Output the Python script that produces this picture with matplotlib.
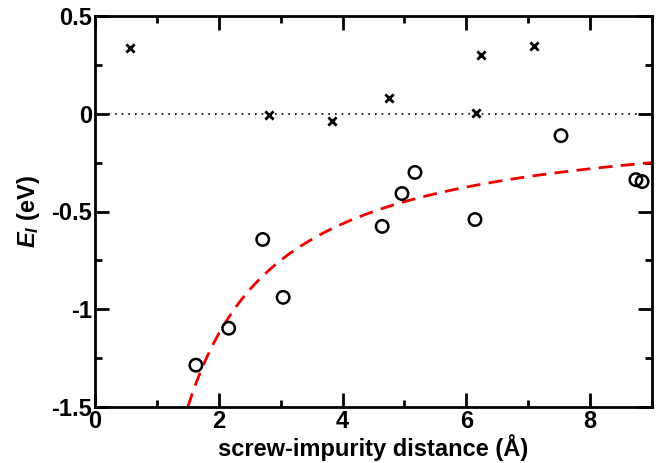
import numpy as np
import matplotlib
matplotlib.use("Agg")
import matplotlib.pyplot as plt
from matplotlib.ticker import MultipleLocator, FuncFormatter

plt.rcParams['font.family'] = ['Liberation Sans', 'DejaVu Sans']
plt.rcParams['font.weight'] = 'bold'
plt.rcParams['mathtext.fontset'] = 'custom'
plt.rcParams['mathtext.it'] = 'Liberation Sans:italic:bold'
plt.rcParams['mathtext.rm'] = 'Liberation Sans:bold'

# crosses
cross_x = [0.57, 2.81, 3.83, 4.75, 6.16, 6.24, 7.09]
cross_y = [0.337, -0.005, -0.036, 0.082, 0.005, 0.30, 0.347]
# open circles
circ_x = [1.63, 2.16, 2.71, 3.04, 4.64, 4.96, 5.17, 6.14, 7.53, 8.74, 8.84]
circ_y = [-1.286, -1.097, -0.643, -0.939, -0.576, -0.408, -0.30, -0.541, -0.112, -0.337, -0.347]
# fit E = -A/r
fit_A = 2.25
fit_r = np.linspace(1.4, 9.0, 300)

fig = plt.figure(figsize=(6.58, 4.63), dpi=100)
ax = fig.add_axes([95/658, 1-407/463, (652-95)/658, (407-16)/463])

ax.plot([0, 9], [0, 0], color='black', linestyle=(0, (1, 3)), linewidth=1.2)
ax.plot(fit_r, -fit_A/fit_r, color='#ee0000', linestyle=(0, (5, 3)), linewidth=2)
ax.scatter(cross_x, cross_y, marker='x', s=35, color='black', linewidths=2, zorder=3)
ax.scatter(circ_x, circ_y, marker='o', s=80, facecolors='none', edgecolors='black', linewidths=1.8, zorder=3)

ax.set_xlim(0, 9)
ax.set_ylim(-1.5, 0.5)
ax.xaxis.set_major_locator(MultipleLocator(2))
ax.xaxis.set_minor_locator(MultipleLocator(1))
ax.yaxis.set_major_locator(MultipleLocator(0.5))
ax.yaxis.set_minor_locator(MultipleLocator(0.25))
ax.xaxis.set_major_formatter(FuncFormatter(lambda v, p: "%g" % v))
ax.yaxis.set_major_formatter(FuncFormatter(lambda v, p: "%g" % v))
ax.tick_params(which='both', direction='in', top=True, right=True, width=2, labelsize=17)
ax.tick_params(which='major', length=10, pad=2)
ax.tick_params(which='minor', length=5)
for s in ax.spines.values():
    s.set_linewidth(2)

ax.set_xlabel("screw-impurity distance (Å)", fontsize=17, fontweight='bold')
ax.xaxis.label.set_va('baseline')
ax.xaxis.set_label_coords(0.5, -0.126)
ax.set_ylabel("$E_I$ (eV)", fontsize=17, fontweight='bold', labelpad=7)

fig.savefig("out.png", dpi=100)
